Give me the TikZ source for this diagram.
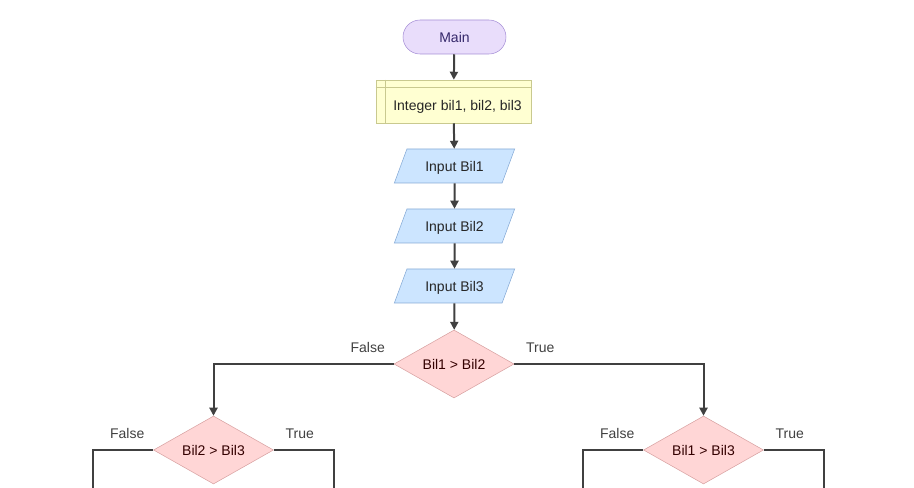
\documentclass[tikz,border=0pt]{standalone}
\usepackage{fontspec}
\setmainfont{Liberation Sans}
\usetikzlibrary{shapes.geometric,arrows.meta,positioning}
\definecolor{termfill}{HTML}{E9DDFB}
\definecolor{termline}{HTML}{A58ED6}
\definecolor{termtext}{HTML}{35286A}
\definecolor{declfill}{HTML}{FFFFD2}
\definecolor{declline}{HTML}{C9C98F}
\definecolor{iofill}{HTML}{CCE5FF}
\definecolor{ioline}{HTML}{86AAD6}
\definecolor{iffill}{HTML}{FFD6D6}
\definecolor{ifline}{HTML}{D8A2A2}
\definecolor{flowline}{HTML}{404040}
\tikzset{
  every node/.style={font=\fontsize{10.5pt}{12pt}\selectfont,text=black!85,text height=7.6pt,text depth=0pt},
  terminal/.style={draw=termline,fill=termfill,rounded corners=12.75pt,minimum width=77.25pt,minimum height=25.5pt,text=termtext},
  declare/.style={draw=declline,fill=declfill,minimum width=116.25pt,minimum height=32.25pt},
  inout/.style={trapezium,trapezium left angle=65,trapezium right angle=115,trapezium stretches=true,draw=ioline,fill=iofill,minimum width=90.75pt,minimum height=25.5pt},
  decision/.style={diamond,draw=ifline,fill=iffill,inner sep=0pt,shape aspect=1.76,minimum width=90pt,minimum height=51pt,text=black!80!red},
  branch/.style={inner sep=1pt,text=black!75},
  flow/.style={draw=flowline,line width=1.5pt,-{Triangle[length=6pt,width=6pt]}},
  plain/.style={draw=flowline,line width=1.5pt}
}
\newcommand{\ifnode}[3]{\node[decision] at (#1) (#2) {#3};
  \node[branch] at ([shift={(-26,-17)}]#2.west) (#2-f) {False};
  \node[branch] at ([shift={(26,-17)}]#2.east) (#2-t) {True}}

\begin{document}
\begin{tikzpicture}[x=0.75pt,y=-0.75pt]
	\useasboundingbox (0,0) rectangle (914,488);
	\node[terminal] at (454.5,37) (main) {Main};
	\node[declare] at (453.5,101.5) (decl) {\hspace{6pt}\raisebox{-2.6pt}{Integer bil1, bil2, bil3}};
	\draw[declline] ([yshift=-6pt]decl.north west) -- ([yshift=-6pt]decl.north east)
		([xshift=7.5pt]decl.north west) -- ([xshift=7.5pt]decl.south west);
	\node[inout] at (454.5,166) (in1) {Input Bil1};
	\node[inout] at (454.5,226) (in2) {Input Bil2};
	\node[inout] at (454.5,286) (in3) {Input Bil3};
	\ifnode{454,364}{if1}{Bil1 > Bil2};
	\ifnode{213.5,450}{if2}{Bil2 > Bil3};
	\ifnode{703.5,450}{if3}{Bil1 > Bil3};
	\coordinate (if2-fe) at (93,492);
	\coordinate (if2-te) at (334,492);
	\coordinate (if3-fe) at (583,492);
	\coordinate (if3-te) at (824,492);

	\draw[flow] (main) -- (decl);
	\draw[flow] (decl) -- (in1);
	\draw[flow] (in1) -- (in2);
	\draw[flow] (in2) -- (in3);
	\draw[flow] (in3) -- (if1);
	\draw[flow] (if1.west) -| (if2.north);
	\draw[flow] (if1.east) -| (if3.north);
	\draw[plain] (if2.west) -| (if2-fe)
		(if2.east) -| (if2-te)
		(if3.west) -| (if3-fe)
		(if3.east) -| (if3-te);
\end{tikzpicture}
\end{document}
